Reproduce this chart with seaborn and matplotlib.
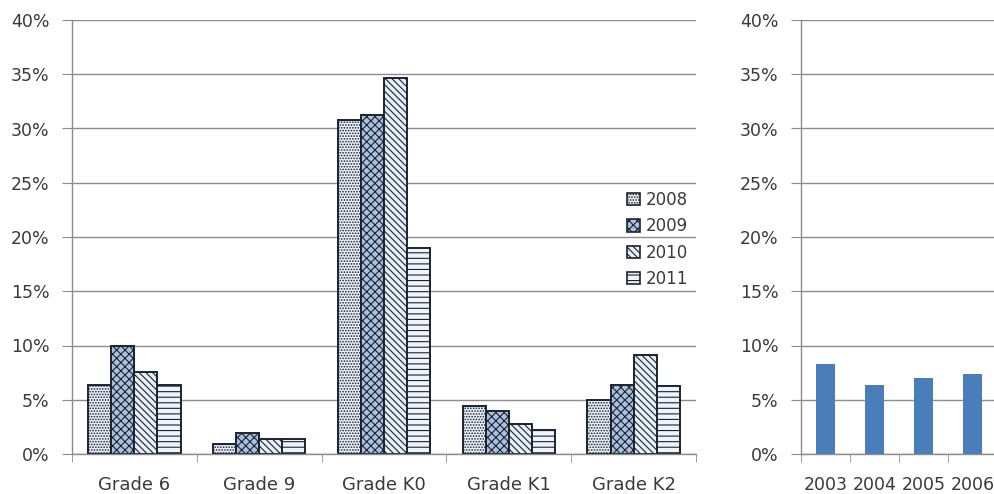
import matplotlib
matplotlib.use("Agg")
import matplotlib.pyplot as plt
import matplotlib.patches as mpatches
import seaborn as sns
import pandas as pd
import numpy as np
from matplotlib.ticker import FixedLocator, PercentFormatter

sns.set_style("white")
plt.rcParams['font.family'] = ['DejaVu Sans']
plt.rcParams['hatch.linewidth'] = 0.8

# ---- data ----
grades = ["Grade 6", "Grade 9", "Grade K0", "Grade K1", "Grade K2"]
years = ["2008", "2009", "2010", "2011"]
v2008 = [6.4, 0.9, 30.8, 4.4, 5.0]
v2009 = [10.0, 1.9, 31.2, 4.0, 6.4]
v2010 = [7.6, 1.4, 34.7, 2.8, 9.1]
v2011 = [6.4, 1.4, 19.0, 2.2, 6.3]

trend_years = ["2003", "2004", "2005", "2006"]
trend_vals = [8.3, 6.4, 7.0, 7.4]

y_ticks = [0, 5, 10, 15, 20, 25, 30, 35, 40]

# ---- frames ----
rows = []
for yr, vals in zip(years, [v2008, v2009, v2010, v2011]):
    for g, v in zip(grades, vals):
        rows.append({"grade": g, "year": yr, "value": v})
df = pd.DataFrame(rows)
df2 = pd.DataFrame({"year": trend_years, "value": trend_vals})

W, H = 994, 494
fig = plt.figure(figsize=(W / 100, H / 100), dpi=100)
ax1 = fig.add_axes([72 / W, (H - 454) / H, 624 / W, 434 / H])
ax2 = fig.add_axes([801 / W, (H - 454) / H, 196 / W, 434 / H])

fills = ["#e8eff8", "#a9c1df", "#e6eef7", "#eef4fb"]
hatches = ["......", "xxxx", "\\\\\\\\\\", "---"]
edge = "#1c2330"

sns.barplot(data=df, x="grade", y="value", hue="year", hue_order=years,
            order=grades, palette=fills, width=0.74, ax=ax1, saturation=1,
            edgecolor=edge, linewidth=1.4, errorbar=None, legend=False)
for cont, h in zip(ax1.containers, hatches):
    for p in cont:
        p.set_hatch(h)

sns.barplot(data=df2, x="year", y="value", order=trend_years, color="#4a7ebb",
            width=0.37, ax=ax2, errorbar=None, saturation=1, linewidth=0)

grid_c = "#8c8c8c"
txt_c = "#3a3a3a"
for ax, n in [(ax1, len(grades)), (ax2, len(trend_years))]:
    ax.set_ylim(0, 40)
    ax.set_xlim(-0.5, n - 0.5)
    ax.set_yticks(y_ticks)
    ax.yaxis.set_major_formatter(PercentFormatter(decimals=0))
    ax.grid(axis="y", color=grid_c, linewidth=1.0)
    ax.set_axisbelow(True)
    ax.set_xlabel("")
    ax.set_ylabel("")
    for s in ["top", "right"]:
        ax.spines[s].set_visible(False)
    for s in ["left", "bottom"]:
        ax.spines[s].set_color(grid_c)
        ax.spines[s].set_linewidth(1.0)
    ax.tick_params(axis="y", which="major", left=True, length=7, color=grid_c,
                   labelsize=12.5, labelcolor=txt_c, pad=9)
    ax.xaxis.set_minor_locator(FixedLocator(np.arange(-0.5, n, 1.0)))
    ax.tick_params(axis="x", which="minor", bottom=True, length=6, color=grid_c)

ax1.tick_params(axis="x", which="major", length=0, labelsize=13,
                labelcolor=txt_c, pad=16)
ax2.tick_params(axis="x", which="major", length=0, labelsize=12.5,
                labelcolor=txt_c, pad=16)

handles = [mpatches.Patch(facecolor=f, edgecolor=edge, hatch=h, linewidth=1.2, label=y)
           for f, h, y in zip(fills, hatches, years)]
leg = fig.legend(handles=handles, loc="upper left",
                 bbox_to_anchor=(627 / W, 1 - 191 / H), frameon=False,
                 borderpad=0, borderaxespad=0,
                 handlelength=0.75, handleheight=0.75, handletextpad=0.35,
                 labelspacing=0.5, fontsize=12)
for t in leg.get_texts():
    t.set_color(txt_c)

fig.savefig("out.png", dpi=100)
